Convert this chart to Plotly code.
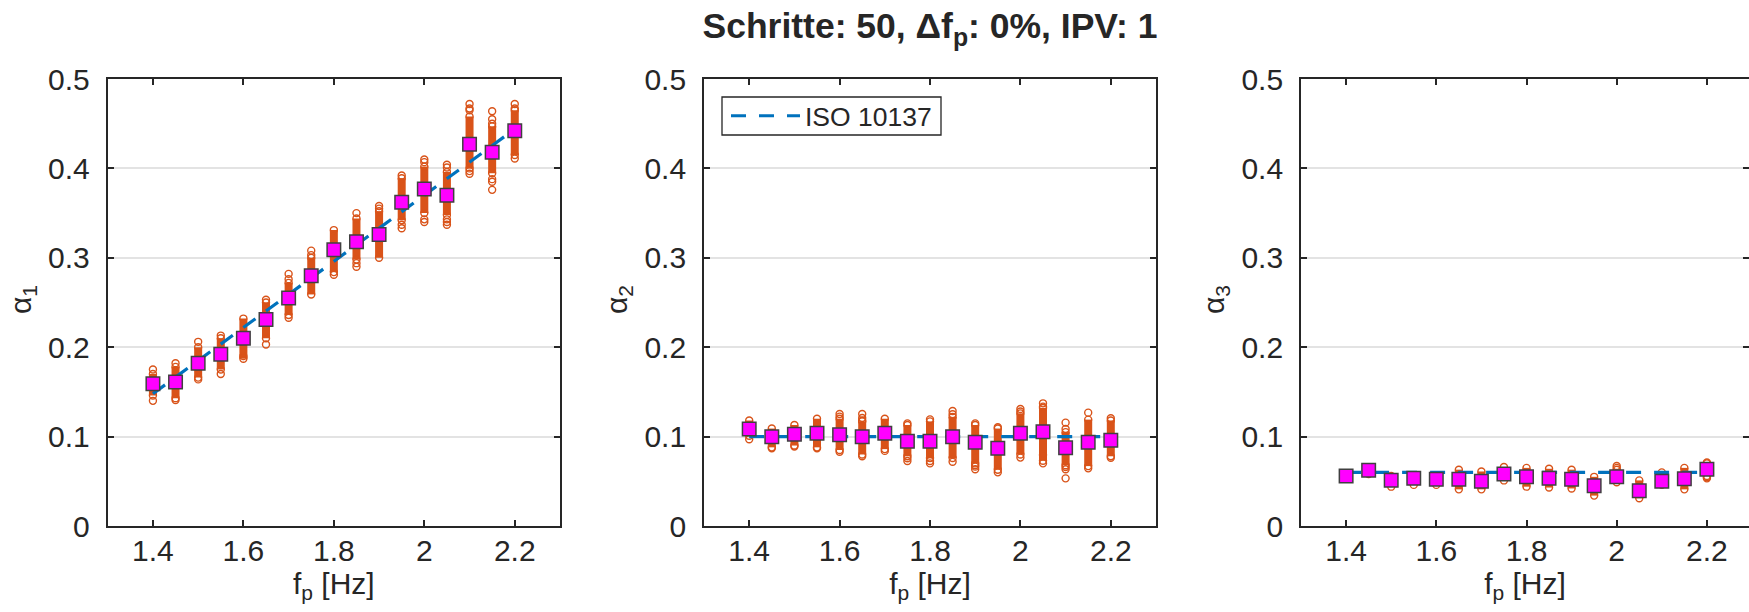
import plotly.graph_objects as go

# ---------------- data ----------------
freqs = [1.4, 1.45, 1.5, 1.55, 1.6, 1.65, 1.7, 1.75, 1.8, 1.85, 1.9, 1.95, 2.0, 2.05, 2.1, 2.15, 2.2]
x_ticks = [1.4, 1.6, 1.8, 2.0, 2.2]
x_tick_labels = ["1.4", "1.6", "1.8", "2", "2.2"]
y_ticks = [0, 0.1, 0.2, 0.3, 0.4, 0.5]
y_tick_labels = ["0", "0.1", "0.2", "0.3", "0.4", "0.5"]

# ISO 10137 reference values
iso_a1 = [0.148, 0.1665, 0.185, 0.2035, 0.222, 0.2405, 0.259, 0.2775, 0.296, 0.3145, 0.333, 0.3515, 0.37, 0.3885, 0.407, 0.4255, 0.444]
iso_a2 = [0.1, 0.1, 0.1, 0.1, 0.1, 0.1, 0.1, 0.1, 0.1, 0.1, 0.1, 0.1, 0.1, 0.1, 0.1, 0.1, 0.1]
iso_a3 = [0.06, 0.06, 0.06, 0.06, 0.06, 0.06, 0.06, 0.06, 0.06, 0.06, 0.06, 0.06, 0.06, 0.06, 0.06, 0.06, 0.06]

# mean values (magenta squares)
mean_a1 = [0.159, 0.161, 0.182, 0.192, 0.210, 0.231, 0.255, 0.280, 0.309, 0.318, 0.326, 0.362, 0.377, 0.370, 0.427, 0.418, 0.442]
mean_a2 = [0.1085, 0.0999, 0.1026, 0.1037, 0.1022, 0.0999, 0.1037, 0.0947, 0.0947, 0.0999, 0.0936, 0.0869, 0.1037, 0.1055, 0.0876, 0.0936, 0.0958]
mean_a3 = [0.0559, 0.0623, 0.0511, 0.0533, 0.0522, 0.0522, 0.0500, 0.0582, 0.0552, 0.0533, 0.0522, 0.0451, 0.0552, 0.0395, 0.0500, 0.0529, 0.0634]

# dense sample ranges (lower / upper) of the individual runs
lo_a1 = [0.146, 0.143, 0.166, 0.175, 0.187, 0.210, 0.236, 0.259, 0.284, 0.298, 0.300, 0.342, 0.350, 0.348, 0.400, 0.3945, 0.415]
hi_a1 = [0.170, 0.178, 0.200, 0.210, 0.232, 0.250, 0.272, 0.300, 0.331, 0.344, 0.352, 0.389, 0.402, 0.396, 0.458, 0.447, 0.465]
lo_a2 = [0.101, 0.088, 0.090, 0.088, 0.085, 0.080, 0.086, 0.078, 0.076, 0.076, 0.070, 0.063, 0.080, 0.073, 0.068, 0.067, 0.078]
hi_a2 = [0.118, 0.109, 0.113, 0.120, 0.120, 0.117, 0.120, 0.113, 0.117, 0.122, 0.113, 0.109, 0.126, 0.132, 0.105, 0.119, 0.118]
lo_a3 = [0.054, 0.058, 0.044, 0.046, 0.046, 0.041, 0.041, 0.051, 0.044, 0.043, 0.042, 0.034, 0.049, 0.031, 0.046, 0.041, 0.056]
hi_a3 = [0.058, 0.064, 0.056, 0.056, 0.056, 0.063, 0.061, 0.066, 0.065, 0.064, 0.063, 0.055, 0.063, 0.051, 0.060, 0.065, 0.070]

# isolated individual samples outside the dense range
out_a1 = [[0.140, 0.175], [0.141, 0.182], [0.164, 0.206], [0.170, 0.213], [0.190], [0.203, 0.253],
          [0.233, 0.276, 0.282], [0.303, 0.308], [0.281], [0.290, 0.294, 0.350], [0.355, 0.358],
          [0.333, 0.337, 0.392], [0.340, 0.343, 0.407, 0.410], [0.337, 0.340, 0.343, 0.401, 0.404],
          [0.394, 0.397, 0.465, 0.467, 0.472], [0.376, 0.385, 0.388, 0.450, 0.455, 0.464], [0.411, 0.467, 0.472]]
out_a2 = [[0.097], [0.087], [0.089], [0.087], [0.083, 0.1223, 0.1253], [0.078, 0.118, 0.1208, 0.1253], [0.084],
          [0.0727, 0.0757, 0.1148], [0.0701, 0.0727, 0.1193], [0.0719, 0.125, 0.1286], [0.0634, 0.0664, 0.068, 0.1148],
          [0.060, 0.1104], [0.0765, 0.128, 0.1309], [0.0701, 0.0794, 0.1335, 0.1372],
          [0.0533, 0.0634, 0.066, 0.1085, 0.1156], [0.0645, 0.1268], [0.0764, 0.1205]]
out_a3 = [[], [], [], [], [], [], [], [], [], [], [], [], [0.065, 0.0671], [], [], [], [0.0533, 0.0545, 0.071]]

y_titles = ["α<sub>1</sub>", "α<sub>2</sub>", "α<sub>3</sub>"]
x_title = "f<sub>p</sub> [Hz]"
title_text = "<b>Schritte: 50, Δf<sub>p</sub>: 0%, IPV: 1</b>"
legend_name = "ISO 10137"

# ---------------- style ----------------
W, H = 1749, 612
ORANGE = "#D95319"
BLUE = "#0072BD"
MAGENTA = "#FF00FF"
TXT = "#262626"
FONT = "Liberation Sans, Arial, sans-serif"
TICK_FS = 30


def px_x(p):  # page pixel -> paper fraction
    return p / W


def px_y(p):
    return 1 - p / H


panel_px = [(107.7, 560.0), (704.0, 1156.0), (1301.0, 1749.0)]
x_ranges = [[1.3, 2.3], [1.3, 2.3], [1.3, 2.3 - (1752.0 - 1749.0) / 451.5]]
y_dom = [px_y(526), px_y(79)]

fig = go.Figure()

panels = [
    (iso_a1, mean_a1, lo_a1, hi_a1, out_a1),
    (iso_a2, mean_a2, lo_a2, hi_a2, out_a2),
    (iso_a3, mean_a3, lo_a3, hi_a3, out_a3),
]

for i, (iso, mean, lo, hi, outs) in enumerate(panels):
    xa = "x" if i == 0 else f"x{i+1}"
    ya = "y" if i == 0 else f"y{i+1}"
    bx, by = [], []
    for f, a, b in zip(freqs, lo, hi):
        bx += [f, f, None]
        by += [a, b, None]
    fig.add_trace(go.Scatter(x=bx, y=by, mode="lines", line=dict(color=ORANGE, width=8),
                             xaxis=xa, yaxis=ya, showlegend=False, hoverinfo="skip"))
    cx, cy = [], []
    for f, a, b, o in zip(freqs, lo, hi, outs):
        for v in [a, b] + list(o):
            cx.append(f)
            cy.append(v)
    fig.add_trace(go.Scatter(x=cx, y=cy, mode="markers",
                             marker=dict(symbol="circle-open", size=7, color=ORANGE, line=dict(width=1.4)),
                             xaxis=xa, yaxis=ya, showlegend=False, hoverinfo="skip"))
    fig.add_trace(go.Scatter(x=freqs, y=iso, mode="lines", name=legend_name,
                             line=dict(color=BLUE, width=3.2, dash="15px,13px"),
                             xaxis=xa, yaxis=ya, showlegend=(i == 1)))
    fig.add_trace(go.Scatter(x=freqs, y=mean, mode="markers",
                             marker=dict(symbol="square", size=13.5, color=MAGENTA,
                                         line=dict(color="#404040", width=1.5)),
                             xaxis=xa, yaxis=ya, showlegend=False))

y_title_x = [22, 618, 1215]
annotations = [
    dict(text=y_titles[i], x=px_x(y_title_x[i]), y=px_y(300), xref="paper", yref="paper",
         xanchor="center", yanchor="middle", textangle=-90, showarrow=False,
         font=dict(size=TICK_FS, color=TXT, family=FONT))
    for i in range(3)
]

layout = dict(
    template="none",
    width=W, height=H,
    margin=dict(l=0, r=0, t=0, b=0, pad=0),
    paper_bgcolor="white", plot_bgcolor="white",
    font=dict(family=FONT, color=TXT, size=TICK_FS),
    title=dict(text=title_text, x=px_x(930), y=px_y(26), xref="paper", yref="paper",
               xanchor="center", yanchor="middle", font=dict(size=35.5, color=TXT, family=FONT)),
    legend=dict(x=px_x(726), y=px_y(116), xanchor="left", yanchor="middle",
                borderwidth=0, bgcolor="rgba(0,0,0,0)",
                font=dict(size=26.5, color=TXT, family=FONT), itemwidth=69,
                tracegroupgap=0),
    showlegend=True,
    annotations=annotations,
    shapes=[dict(type="rect", xref="paper", yref="paper",
                 x0=px_x(722), x1=px_x(941), y0=px_y(135), y1=px_y(97),
                 line=dict(color=TXT, width=1.3), fillcolor="white", layer="below")],
)

for i in range(3):
    xk = "xaxis" if i == 0 else f"xaxis{i+1}"
    yk = "yaxis" if i == 0 else f"yaxis{i+1}"
    xa = "x" if i == 0 else f"x{i+1}"
    ya = "y" if i == 0 else f"y{i+1}"
    l, r = panel_px[i]
    layout[xk] = dict(
        domain=[px_x(l), min(1.0, px_x(r))], range=x_ranges[i], anchor=ya, automargin=False,
        tickvals=x_ticks, ticktext=x_tick_labels,
        ticks="inside", ticklen=6, tickwidth=1.5, tickcolor=TXT,
        showline=True, linecolor=TXT, linewidth=1.8, mirror="allticks",
        showgrid=False, zeroline=False,
        tickfont=dict(size=TICK_FS, color=TXT, family=FONT), ticklabelstandoff=-3,
        title=dict(text=x_title, font=dict(size=TICK_FS, color=TXT, family=FONT), standoff=0),
        fixedrange=True,
    )
    layout[yk] = dict(
        domain=list(y_dom), range=[0, 0.5], anchor=xa, automargin=False,
        tickvals=y_ticks, ticktext=y_tick_labels,
        ticks="inside", ticklen=6, tickwidth=1.5, tickcolor=TXT,
        showline=True, linecolor=TXT, linewidth=1.8, mirror="allticks",
        showgrid=True, gridcolor="#E3E3E3", gridwidth=2, zeroline=False,
        tickfont=dict(size=TICK_FS, color=TXT, family=FONT), ticklabelstandoff=10,
        fixedrange=True,
    )

fig.update_layout(**layout)
fig.write_html("out.html",
               config={"displayModeBar": False},
               post_script="document.body.style.margin='0';document.body.style.overflow='hidden';")
